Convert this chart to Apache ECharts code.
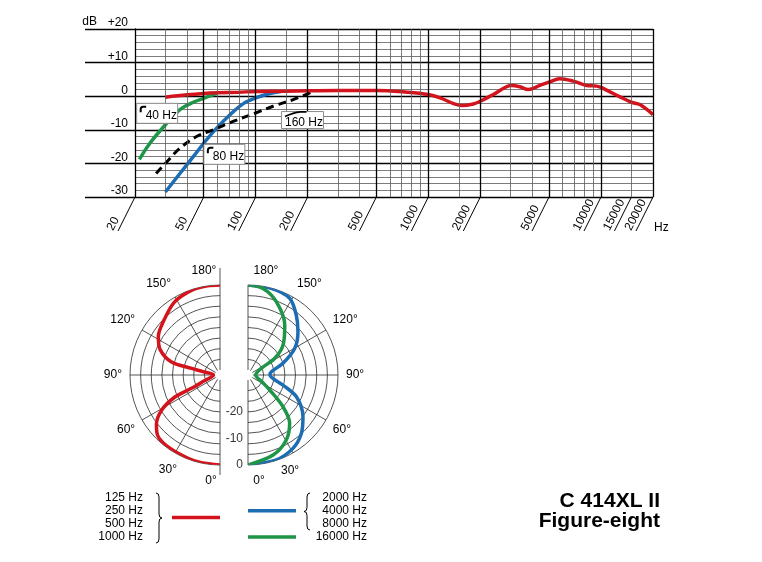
<!DOCTYPE html>
<html><head><meta charset="utf-8">
<script src="https://cdn.jsdelivr.net/npm/echarts@6/dist/echarts.min.js"></script>
<style>html,body{margin:0;padding:0;background:#fff}#c{width:762px;height:562px}</style>
</head><body><div id="c"></div>
<script>
// ---------- Frequency response (Hz -> dB) ----------
const respFreq = [30, 40, 50, 60, 80, 100, 150, 200, 300, 500, 750, 1000, 1170, 1400, 1560, 1820, 2000, 2380, 3030, 3390, 3790, 4430, 5000, 5780, 6900, 8250, 9430, 10000, 10770, 12870, 15000, 16790, 20000];
const respDb   = [-0.3, 0.4, 0.8, 1.0, 1.2, 1.4, 1.5, 1.6, 1.7, 1.7, 1.2, 0.5, -0.5, -2.2, -2.8, -2.3, -1.5, 0.5, 3.2, 2.8, 2.0, 3.2, 4.2, 5.2, 4.5, 3.2, 3.0, 2.6, 1.8, -0.2, -1.8, -2.5, -5.5];
const cut40Freq = [21.2, 24.4, 30, 36.4, 43.5, 52, 60];
const cut40Db   = [-18.8, -14, -8.5, -4, -1.8, -0.3, 0.9];
const cut80Freq = [30, 36.4, 43.5, 50, 59.4, 71, 84.8, 100, 121, 140];
const cut80Db   = [-28.5, -23, -18, -14, -9.5, -5.5, -2.2, -0.5, 0.8, 1.4];
const cut160Freq = [26.5, 30.6, 36.4, 45.5, 56.8, 74, 100, 126, 165, 211];
const cut160Db   = [-23, -19.5, -15.5, -12, -10, -7.5, -5, -3, -1, 1.2];
const xTickLabels = [20, 50, 100, 200, 500, 1000, 2000, 5000, 10000, 15000, 20000];
const majorFreqLines = [50, 100, 200, 500, 1000, 2000, 5000, 10000, 20000];
const minorFreqLines = [30, 40, 60, 70, 80, 90, 150, 300, 400, 600, 700, 800, 900, 1500, 3000, 4000, 6000, 7000, 8000, 9000, 15000];
const filterLabels = ['40 Hz', '80 Hz', '160 Hz'];
const filterLabelFreq = [20.45, 50.1, 141];
const filterLabelDb = [-5.1, -17.3, -7.1];

// ---------- Polar patterns (angle deg -> dB) ----------
const lowPolarAngle = [0, 12, 21, 35, 45, 52, 59, 64, 65, 69, 90, 101, 103, 105, 113, 122, 133, 148, 162, 172, 180];
const lowPolarDb    = [0, -0.1, -0.3, -0.5, -1.0, -3.5, -8.3, -15, -22, -27, -31.5, -27.3, -22.9, -15, -9.4, -6.5, -4.6, -1.5, -0.2, 0, 0];
const midPolarAngle = [0, 18, 31.5, 42.4, 52.8, 65.8, 74, 90, 98, 108.5, 119.7, 130.9, 141.2, 151.5, 165, 180];
const midPolarDb    = [0, -0.2, -1.5, -4.1, -7.9, -13.9, -20.2, -25.6, -25, -20, -13.6, -9, -4.9, -1, -0.1, 0];
const highPolarAngle = [0, 17.4, 30.5, 40.8, 47.8, 55.3, 63, 90, 116.7, 122, 130.6, 143.7, 158.9, 170.2, 180];
const highPolarDb    = [0, -2.3, -5.5, -9.9, -16.1, -23.9, -27.7, -31, -28.3, -22, -16.5, -10.5, -4.3, -0.8, 0];
const ringDb = [-28, -24, -20, -16, -12, -8, -4, 0];
const radialLabelDb = [-20, -10, 0];

const legendLow = ['125 Hz', '250 Hz', '500 Hz', '1000 Hz'];
const legendHigh = ['2000 Hz', '4000 Hz', '8000 Hz', '16000 Hz'];

const RED = '#d3141c', BLUE = '#1c6db3', GREEN = '#1f9548';
const FONT = '"Liberation Sans", Arial, Helvetica, sans-serif';
const GRID_THIN = '#5a5a5a', POLAR_LINE = '#2a2a2a';
const zip = (a, b) => a.map((v, i) => [v, b[i]]);

const chart = echarts.init(document.getElementById('c'), null, {renderer: 'canvas'});

// curly brace made of graphic primitives; dir 1 => '}', -1 => '{'
function braceParts(x0, y1, y2, dir) {
  const w = 6 * dir, h = w / 2, ym = (y1 + y2) / 2;
  const st = {stroke: '#000', lineWidth: 1, fill: null};
  return [
    {type: 'bezierCurve', shape: {x1: x0, y1: y1, cpx1: x0 + h, cpy1: y1, x2: x0 + h, y2: y1 + 4}, style: st},
    {type: 'line', shape: {x1: x0 + h, y1: y1 + 4, x2: x0 + h, y2: ym - 4}, style: st},
    {type: 'bezierCurve', shape: {x1: x0 + h, y1: ym - 4, cpx1: x0 + h, cpy1: ym, x2: x0 + w, y2: ym}, style: st},
    {type: 'bezierCurve', shape: {x1: x0 + w, y1: ym, cpx1: x0 + h, cpy1: ym, x2: x0 + h, y2: ym + 4}, style: st},
    {type: 'line', shape: {x1: x0 + h, y1: ym + 4, x2: x0 + h, y2: y2 - 4}, style: st},
    {type: 'bezierCurve', shape: {x1: x0 + h, y1: y2 - 4, cpx1: x0 + h, cpy1: y2, x2: x0, y2: y2}, style: st}
  ];
}

const graphic = [];
legendLow.forEach((t, i) => graphic.push({type: 'text', x: 143, y: 497.3 + i * 13.2, style: {text: t, fontSize: 12, fontFamily: FONT, fill: '#000', align: 'right', verticalAlign: 'middle'}}));
legendHigh.forEach((t, i) => graphic.push({type: 'text', x: 367, y: 497.3 + i * 13.2, style: {text: t, fontSize: 12, fontFamily: FONT, fill: '#000', align: 'right', verticalAlign: 'middle'}}));
graphic.push({type: 'line', shape: {x1: 172, y1: 517.5, x2: 220, y2: 517.5}, style: {stroke: RED, lineWidth: 3.5}});
graphic.push({type: 'line', shape: {x1: 248, y1: 510.7, x2: 296, y2: 510.7}, style: {stroke: BLUE, lineWidth: 3.5}});
graphic.push({type: 'line', shape: {x1: 248, y1: 537, x2: 296, y2: 537}, style: {stroke: GREEN, lineWidth: 3.5}});
braceParts(156, 493, 543, 1).forEach(g => graphic.push(g));
braceParts(310, 493, 530, -1).forEach(g => graphic.push(g));

const gridLine = (f, major) => ({xAxis: f, lineStyle: {color: major ? '#000' : GRID_THIN, width: major ? 1.3 : 0.8, type: 'solid'}});

const angleLabelBase = {fontSize: 12, fontFamily: FONT, color: '#000'};

// half-circle rings drawn through the polar scale
function ringSeries(polarIndex, clockwise) {
  return {name: 'rings', type: 'custom', coordinateSystem: 'polar', polarIndex: polarIndex, silent: true, z: 2,
    data: ringDb.map(v => [v, 0]),
    renderItem: (params, api) => {
      const cs = params.coordSys;
      const p = api.coord([api.value(0), 90]);
      const r = Math.hypot(p[0] - cs.cx, p[1] - cs.cy);
      return {type: 'arc', shape: {cx: cs.cx, cy: cs.cy, r: r, startAngle: Math.PI / 2,
        endAngle: clockwise ? Math.PI * 1.5 : -Math.PI / 2, clockwise: clockwise},
        style: {stroke: POLAR_LINE, lineWidth: 0.8, fill: null}};
    }};
}

const option = {
  animation: false,
  backgroundColor: '#fff',
  title: {text: 'C 414XL II', subtext: 'Figure-eight', left: 660, top: 491, padding: 0, textAlign: 'right', itemGap: -1,
    textStyle: {fontSize: 21, fontWeight: 'bold', fontFamily: FONT, color: '#000'},
    subtextStyle: {fontSize: 21, fontWeight: 'bold', fontFamily: FONT, color: '#000'}},
  grid: {left: 135, right: 109, top: 29, bottom: 365},
  xAxis: {type: 'log', logBase: 10, min: 20, max: 20000,
    axisLine: {show: false, onZero: false}, axisTick: {show: false}, axisLabel: {show: false}, splitLine: {show: false},
    name: 'Hz', nameLocation: 'end', nameGap: 1,
    nameTextStyle: {fontSize: 12, fontFamily: FONT, color: '#000', align: 'left', verticalAlign: 'top', padding: [25, 0, 0, 0]}},
  yAxis: {type: 'value', min: -30, max: 20, interval: 10,
    axisLine: {show: true, lineStyle: {color: '#000', width: 1.3}},
    axisTick: {show: true, length: 50, lineStyle: {color: '#000', width: 1.3}},
    axisLabel: {margin: 7, verticalAlign: 'bottom', fontSize: 12, fontFamily: FONT, color: '#000',
      formatter: v => v > 0 ? '+' + v : String(v)},
    splitLine: {show: true, lineStyle: {color: '#000', width: 1.3}},
    minorTick: {show: false, splitNumber: 5},
    minorSplitLine: {show: true, lineStyle: {color: GRID_THIN, width: 0.8}},
    name: 'dB', nameLocation: 'end', nameGap: 1,
    nameTextStyle: {fontSize: 12, fontFamily: FONT, color: '#000', align: 'right', verticalAlign: 'bottom', padding: [0, 38, 0, 0]}},
  polar: [
    {center: [220, 375], radius: [5, 90]},
    {center: [248, 375], radius: [5, 90]}
  ],
  angleAxis: [
    {polarIndex: 0, type: 'value', min: 0, max: 180, interval: 30, startAngle: 270, endAngle: 90, clockwise: true,
      axisLine: {show: false}, axisTick: {show: false}, splitLine: {show: true, lineStyle: {color: POLAR_LINE, width: 0.8}},
      axisLabel: Object.assign({margin: 8,
        formatter: v => v === 0 ? '{a|0°}' : v === 180 ? '{b|180°}' : v === 30 ? '{c|30°}' : v + '°',
        rich: {a: Object.assign({padding: [2, 18, 0, 0]}, angleLabelBase), b: Object.assign({padding: [0, 32, 0, 0]}, angleLabelBase), c: Object.assign({padding: [4, -6, 0, 0]}, angleLabelBase)}}, angleLabelBase)},
    {polarIndex: 1, type: 'value', min: 0, max: 180, interval: 30, startAngle: -90, endAngle: 90, clockwise: false,
      axisLine: {show: false}, axisTick: {show: false}, splitLine: {show: true, lineStyle: {color: POLAR_LINE, width: 0.8}},
      axisLabel: Object.assign({margin: 8,
        formatter: v => v === 0 ? '{a|0°}' : v === 180 ? '{b|180°}' : v === 30 ? '{c|30°}' : v + '°',
        rich: {a: Object.assign({padding: [2, 0, 0, 22]}, angleLabelBase), b: Object.assign({padding: [0, 0, 0, 36]}, angleLabelBase), c: Object.assign({padding: [5, 0, 0, -16]}, angleLabelBase)}}, angleLabelBase)}
  ],
  radiusAxis: [
    {polarIndex: 0, type: 'value', min: -32, max: 0, interval: 4, axisLine: {show: false}, axisTick: {show: false}, axisLabel: {show: false}, splitLine: {show: false}},
    {polarIndex: 1, type: 'value', min: -32, max: 0, interval: 4, axisLine: {show: false}, axisTick: {show: false}, axisLabel: {show: false}, splitLine: {show: false}}
  ],
  graphic: graphic,
  series: [
    {name: 'grid', type: 'line', data: [], z: 1, silent: true,
      markLine: {silent: true, symbol: 'none', label: {show: false}, animation: false,
        data: majorFreqLines.map(f => gridLine(f, true)).concat(minorFreqLines.map(f => gridLine(f, false)))}},
    {name: 'xticks', type: 'custom', z: 3, silent: true, data: xTickLabels.map(v => [v, -30]),
      renderItem: (params, api) => {
        const p = api.coord([api.value(0), api.value(1)]);
        const dx = -17, dy = 34;
        return {type: 'group', children: [
          {type: 'line', shape: {x1: p[0], y1: p[1], x2: p[0] + dx, y2: p[1] + dy}, style: {stroke: '#000', lineWidth: 1}},
          {type: 'text', x: p[0] + dx - 2.5, y: p[1] + dy + 1.5, rotation: 63 * Math.PI / 180,
            style: {text: String(xTickLabels[params.dataIndex]), fontSize: 12, fontFamily: FONT, fill: '#000', align: 'left', verticalAlign: 'bottom'}}
        ]};
      }},
    {name: 'response', type: 'line', z: 4, data: zip(respFreq, respDb), smooth: 0.35, showSymbol: false,
      lineStyle: {color: RED, width: 3.5}},
    {name: 'low cut 40 Hz', type: 'line', z: 3, data: zip(cut40Freq, cut40Db), smooth: 0.35, showSymbol: false,
      lineStyle: {color: GREEN, width: 3.5}},
    {name: 'low cut 80 Hz', type: 'line', z: 3, data: zip(cut80Freq, cut80Db), smooth: 0.35, showSymbol: false,
      lineStyle: {color: BLUE, width: 3.5}},
    {name: 'low cut 160 Hz', type: 'line', z: 3, data: zip(cut160Freq, cut160Db), smooth: 0.35, showSymbol: false,
      lineStyle: {color: '#000', width: 3, type: [8, 5]}},
    {name: 'filter labels', type: 'custom', z: 6, silent: true, data: zip(filterLabelFreq, filterLabelDb),
      renderItem: (params, api) => {
        const i = params.dataIndex;
        const c = api.coord([api.value(0), api.value(1)]);
        const slope = i === 2;
        const w = slope ? 42 : 41, h = slope ? 17 : 20;
        const x0 = c[0], y0 = c[1] - h / 2;
        const kids = [
          {type: 'rect', shape: {x: x0, y: y0, width: w, height: h}, style: {fill: '#fff', stroke: '#8a8a8a', lineWidth: 1}},
          {type: 'text', x: x0 + (slope ? 3.5 : 9), y: c[1] + (slope ? 2.3 : 2.5),
            style: {text: filterLabels[i], fontSize: 12, fontFamily: FONT, fill: '#000', align: 'left', verticalAlign: 'middle'}}
        ];
        if (slope) {
          kids.push({type: 'path', shape: {pathData: `M${x0 + 3.5} ${y0 + 5} Q${x0 + 12} ${y0 + 1} ${x0 + 19} ${y0 + 0.3} L${x0 + 25} ${y0 + 0.3}`},
            style: {stroke: '#000', lineWidth: 1.6, fill: null}});
        } else {
          kids.push({type: 'path', shape: {pathData: `M${x0 + 4} ${y0 + 9} L${x0 + 4} ${y0 + 6} Q${x0 + 4} ${y0 + 3.5} ${x0 + 6.5} ${y0 + 3.5} L${x0 + 9.5} ${y0 + 3.5}`},
            style: {stroke: '#000', lineWidth: 2, fill: null}});
        }
        return {type: 'group', children: kids};
      }},
    ringSeries(0, true),
    ringSeries(1, false),
    {name: '125–1000 Hz', type: 'line', coordinateSystem: 'polar', polarIndex: 0, z: 4,
      data: zip(lowPolarDb, lowPolarAngle), smooth: 0.3, showSymbol: false, lineStyle: {color: RED, width: 3.5}},
    {name: '2000–8000 Hz', type: 'line', coordinateSystem: 'polar', polarIndex: 1, z: 4,
      data: zip(midPolarDb, midPolarAngle), smooth: 0.3, showSymbol: false, lineStyle: {color: BLUE, width: 3.5}},
    {name: '16000 Hz', type: 'line', coordinateSystem: 'polar', polarIndex: 1, z: 5,
      data: zip(highPolarDb, highPolarAngle), smooth: 0.3, showSymbol: false, lineStyle: {color: GREEN, width: 3.5}},
    {name: 'radial labels', type: 'scatter', coordinateSystem: 'polar', polarIndex: 1, z: 6, silent: true,
      data: radialLabelDb.map(d => [d, 0]), symbolSize: 0,
      label: {show: true, position: 'left', distance: 5, fontSize: 12, fontFamily: FONT, color: '#000',
        formatter: p => String(p.value[0])}}
  ]
};
chart.setOption(option);

// extend the left plot's vertical axis beyond the circle (as in the original)
try {
  const top = chart.convertToPixel({polarIndex: 0}, [0, 180]);
  const bot = chart.convertToPixel({polarIndex: 0}, [0, 0]);
  if (top && bot) {
    graphic.push({type: 'line', shape: {x1: top[0], y1: top[1] - 17, x2: top[0], y2: top[1]}, style: {stroke: POLAR_LINE, lineWidth: 0.8}});
    graphic.push({type: 'line', shape: {x1: bot[0], y1: bot[1], x2: bot[0], y2: bot[1] + 10}, style: {stroke: POLAR_LINE, lineWidth: 0.8}});
    chart.setOption({graphic: graphic});
  }
} catch (e) {}
</script>
</body></html>
